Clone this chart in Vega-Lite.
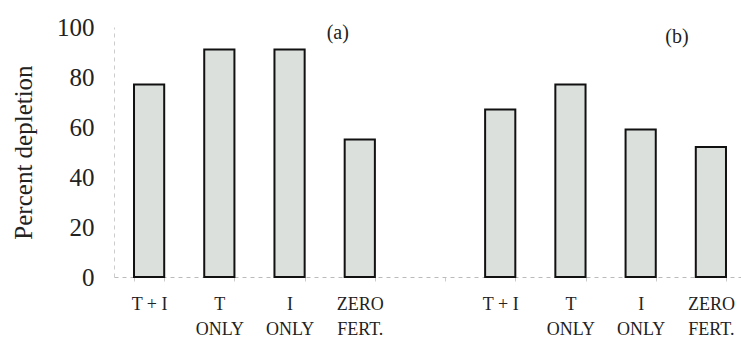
{
  "$schema": "https://vega.github.io/schema/vega-lite/v6.json",
  "width": 632,
  "height": 250,
  "autosize": {"type": "none"},
  "padding": {"left": 114, "top": 27, "right": 0, "bottom": 62},
  "background": "white",
  "config": {
    "view": {"stroke": null},
    "font": "Liberation Serif"
  },
  "datasets": {
    "bars": [
      {"panel": "a", "slot": "a:T + I", "pct": 77},
      {"panel": "a", "slot": "a:T|ONLY", "pct": 91},
      {"panel": "a", "slot": "a:I|ONLY", "pct": 91},
      {"panel": "a", "slot": "a:ZERO|FERT.", "pct": 55},
      {"panel": "b", "slot": "b:T + I", "pct": 67},
      {"panel": "b", "slot": "b:T|ONLY", "pct": 77},
      {"panel": "b", "slot": "b:I|ONLY", "pct": 59},
      {"panel": "b", "slot": "b:ZERO|FERT.", "pct": 52}
    ],
    "tagA": [{"slot": "a:ZERO|FERT.", "y": 97.6, "tag": "(a)"}],
    "tagB": [{"slot": "b:ZERO|FERT.", "y": 96.2, "tag": "(b)"}]
  },
  "layer": [
    {
      "data": {"name": "bars"},
      "mark": {"type": "bar", "fill": "#dbe0dd", "stroke": "#111111", "strokeWidth": 2},
      "encoding": {
        "x": {
          "field": "slot",
          "type": "nominal",
          "sort": null,
          "scale": {
            "domain": ["a:T + I", "a:T|ONLY", "a:I|ONLY", "a:ZERO|FERT.", "g:", "b:T + I", "b:T|ONLY", "b:I|ONLY", "b:ZERO|FERT."],
            "paddingInner": 0.57,
            "paddingOuter": 0.285
          },
          "axis": {
            "title": null,
            "labelExpr": "isString(datum.value) ? split(substring(datum.value, 2), '|') : ''",
            "labelAngle": 0,
            "labelFont": "Liberation Serif",
            "labelFontSize": 18,
            "labelColor": "#222222",
            "labelLineHeight": 25,
            "labelPadding": 14,
            "domainColor": "#bbbbbb",
            "domainDash": [4, 4],
            "domainWidth": 1,
            "ticks": true,
            "tickBand": "extent",
            "tickSize": 4,
            "tickColor": "#cccccc"
          }
        },
        "y": {
          "field": "pct",
          "type": "quantitative",
          "scale": {"domain": [0, 100], "nice": false},
          "axis": {
            "title": "Percent depletion",
            "titleFont": "Liberation Serif",
            "titleFontSize": 25,
            "titleFontWeight": "normal",
            "titleColor": "#222222",
            "titlePadding": 20,
            "values": [0, 20, 40, 60, 80, 100],
            "labelFont": "Liberation Serif",
            "labelFontSize": 25,
            "labelColor": "#222222",
            "labelPadding": 20,
            "ticks": false,
            "grid": false,
            "domainColor": "#cccccc",
            "domainDash": [4, 4],
            "domainWidth": 1
          }
        }
      }
    },
    {
      "data": {"name": "tagA"},
      "mark": {"type": "text", "font": "Liberation Serif", "fontSize": 20, "color": "#222222", "dx": -22, "baseline": "middle"},
      "encoding": {
        "x": {"field": "slot", "type": "nominal", "sort": null},
        "y": {"field": "y", "type": "quantitative"},
        "text": {"field": "tag"}
      }
    },
    {
      "data": {"name": "tagB"},
      "mark": {"type": "text", "font": "Liberation Serif", "fontSize": 20, "color": "#222222", "dx": -34, "baseline": "middle"},
      "encoding": {
        "x": {"field": "slot", "type": "nominal", "sort": null},
        "y": {"field": "y", "type": "quantitative"},
        "text": {"field": "tag"}
      }
    }
  ]
}
